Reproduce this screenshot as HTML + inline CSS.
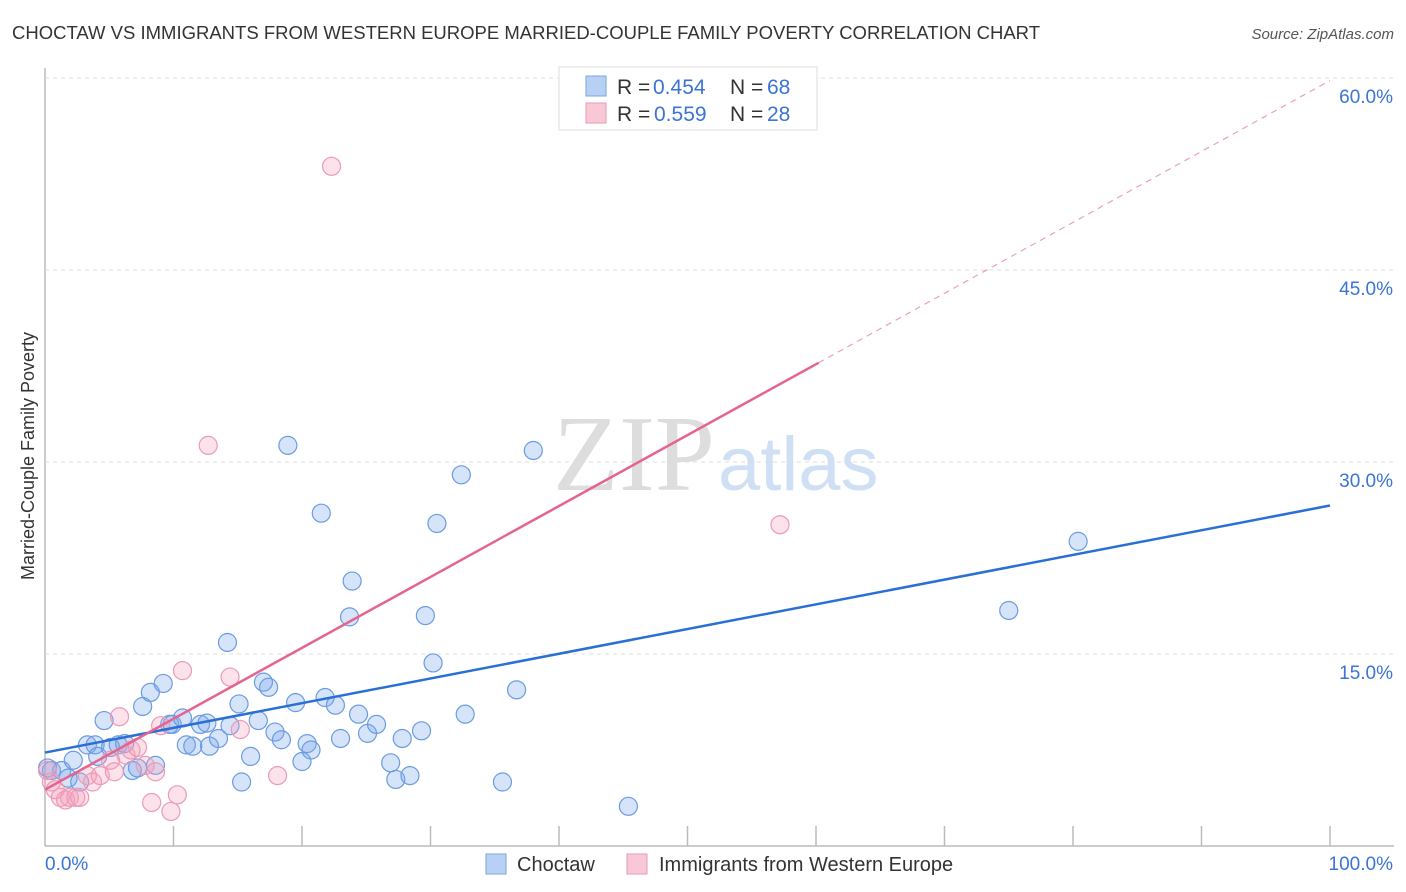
<!DOCTYPE html>
<html><head><meta charset="utf-8"><style>
body{margin:0;background:#fff;font-family:"Liberation Sans",sans-serif;}
svg{display:block}
</style></head><body>
<svg id="chart" width="1406" height="892">
<text x="12" y="39" font-size="18" fill="#333" textLength="1028" lengthAdjust="spacingAndGlyphs">CHOCTAW VS IMMIGRANTS FROM WESTERN EUROPE MARRIED-COUPLE FAMILY POVERTY CORRELATION CHART</text>
<text x="1394" y="39" font-size="15" fill="#555" font-style="italic" text-anchor="end">Source: ZipAtlas.com</text>
<text x="34" y="456" font-size="18" fill="#333" text-anchor="middle" transform="rotate(-90 34 456)">Married-Couple Family Poverty</text>
<text x="715" y="490" font-size="108" fill="#ddd" text-anchor="end" font-family="Liberation Serif,serif">ZIP</text>
<text x="718" y="490" font-size="76" fill="#cfe0f5">atlas</text>
<g id="grid"></g><g id="pts"></g><g id="lines"></g>
<g>
<rect x="559" y="67" width="258" height="63" fill="#fff" stroke="#ddd"/>
<rect x="586" y="76" width="20" height="20" fill="#b8d0f3" stroke="#7aa3e0"/>
<rect x="586" y="103" width="20" height="20" fill="#f8c8d6" stroke="#e89ab3"/>
<text x="617" y="94" font-size="21" fill="#333">R =</text>
<text x="653" y="94" font-size="21" fill="#3b74d6">0.454</text>
<text x="730" y="94" font-size="21" fill="#333">N =</text>
<text x="767" y="94" font-size="21" fill="#3b74d6">68</text>
<text x="617" y="121" font-size="21" fill="#333">R =</text>
<text x="654" y="121" font-size="21" fill="#3b74d6">0.559</text>
<text x="730" y="121" font-size="21" fill="#333">N =</text>
<text x="767" y="121" font-size="21" fill="#3b74d6">28</text>
</g>
<g>
<rect x="486" y="854" width="20" height="20" fill="#b8d0f3" stroke="#7aa3e0"/>
<text x="517" y="871" font-size="20" fill="#333">Choctaw</text>
<rect x="627" y="854" width="20" height="20" fill="#f8c8d6" stroke="#e89ab3"/>
<text x="659" y="871" font-size="20" fill="#333">Immigrants from Western Europe</text>
</g>
</svg>
<script>
const blueX=[0.5,1.3,1.8,2.2,2.7,3.3,3.9,4.1,4.6,5.1,5.7,6.2,6.8,7.2,7.6,8.2,8.6,9.2,9.7,9.9,10.7,11.0,11.5,12.1,12.6,12.8,13.5,14.2,14.4,15.1,15.3,16.0,16.6,17.0,17.4,17.9,18.4,18.9,19.5,20.0,20.4,20.7,21.5,21.8,22.6,23.0,23.7,23.9,24.4,25.1,25.8,26.9,27.3,27.8,28.4,29.3,29.6,30.2,30.5,32.4,32.7,35.6,36.7,38.0,45.4,75.0,80.4,0.2];
const blueY=[5.9,5.9,5.3,6.7,5.0,7.9,7.9,7.0,9.8,7.7,7.9,8.0,5.9,6.1,10.9,12.0,6.3,12.7,9.5,9.5,10.0,7.9,7.8,9.5,9.6,7.8,8.4,15.9,9.4,11.1,5.0,7.0,9.8,12.8,12.4,8.9,8.3,31.3,11.2,6.6,8.0,7.5,26.0,11.6,11.0,8.4,17.9,20.7,10.3,8.8,9.5,6.5,5.2,8.4,5.5,9.0,18.0,14.3,25.2,29.0,10.3,5.0,12.2,30.9,3.1,18.4,23.8,6.1];
const pinkX=[0.2,0.5,0.8,1.2,1.6,1.9,2.4,2.7,3.3,3.7,4.3,5.1,5.4,5.8,6.3,6.7,7.2,7.8,8.3,8.6,9.0,9.8,10.3,10.7,12.7,14.4,15.2,18.1,22.3,57.2];
const pinkY=[5.9,5.0,4.4,3.8,3.6,3.8,3.8,3.8,5.5,5.0,5.5,6.7,5.8,10.1,7.1,7.5,7.7,6.3,3.4,5.8,9.4,2.7,4.0,13.7,31.3,13.2,9.1,5.5,53.1,25.1];
const yTicks=[15,30,45,60];
const yTickLabels=["15.0%","30.0%","45.0%","60.0%"];
const xTicks=[0,10,20,30,40,50,60,70,80,90,100];
const blueTrend=[7.3,26.6];
const pinkTrend=[4.4,59.8];
const pinkSolidEnd=60.2;
const X=v=>45+v*12.85, Y=v=>846-v*12.8;
const NS="http://www.w3.org/2000/svg";
function mk(tag,attrs,parent){const e=document.createElementNS(NS,tag);for(const k in attrs)e.setAttribute(k,attrs[k]);parent.appendChild(e);return e;}
const grid=document.getElementById('grid');
let ax=mk('line',{x1:45,y1:68,x2:45,y2:846,stroke:'#bbb','stroke-width':1.5},grid);


let bx=mk('line',{x1:45,y1:846,x2:1394,y2:846,stroke:'#bbb','stroke-width':1.5},grid);


yTicks.forEach((t,i)=>{
 const g=mk('line',{x1:45,x2:1394,y1:Y(t),y2:Y(t),stroke:'#ddd','stroke-dasharray':'4,4'},grid);
 
 
 const l=mk('text',{x:1393,y:Y(t)+25,'font-size':19,fill:'#3b74d6','text-anchor':'end'},grid);
 l.textContent=yTickLabels[i];
 
 
});
xTicks.slice(1).forEach(t=>{
 const k=mk('line',{x1:X(t),x2:X(t),y1:826,y2:846,stroke:'#bbb','stroke-width':1.5},grid);
 
 
});
let xl0=mk('text',{x:45,y:870,'font-size':19,fill:'#3b74d6'},grid);xl0.textContent="0.0%";


let xl1=mk('text',{x:1393,y:870,'font-size':19,fill:'#3b74d6','text-anchor':'end'},grid);xl1.textContent="100.0%";


const pts=document.getElementById('pts');
blueX.forEach((x,i)=>{
 const c=mk('circle',{cx:X(x),cy:Y(blueY[i]),r:9,fill:'rgba(120,165,235,0.3)',stroke:'#6b9be0','stroke-width':1.2},pts);
 
 
});
pinkX.forEach((x,i)=>{
 const c=mk('circle',{cx:X(x),cy:Y(pinkY[i]),r:9,fill:'rgba(245,160,190,0.3)',stroke:'#eb9ab5','stroke-width':1.2},pts);
 
 
});
const lines=document.getElementById('lines');
let bl=mk('line',{x1:X(0),y1:Y(blueTrend[0]),x2:X(100),y2:Y(blueTrend[1]),stroke:'#2a6fd6','stroke-width':2.5},lines);


const pAt=v=>pinkTrend[0]+(pinkTrend[1]-pinkTrend[0])*v/100;
let pl=mk('line',{x1:X(0),y1:Y(pAt(0)),x2:X(pinkSolidEnd),y2:Y(pAt(pinkSolidEnd)),stroke:'#e5648e','stroke-width':2.5},lines);


let pd=mk('line',{x1:X(pinkSolidEnd),y1:Y(pAt(pinkSolidEnd)),x2:X(100),y2:Y(pAt(100)),stroke:'#eaa0b8','stroke-width':1.2,'stroke-dasharray':'6,5'},lines);


</script>
</body></html>
